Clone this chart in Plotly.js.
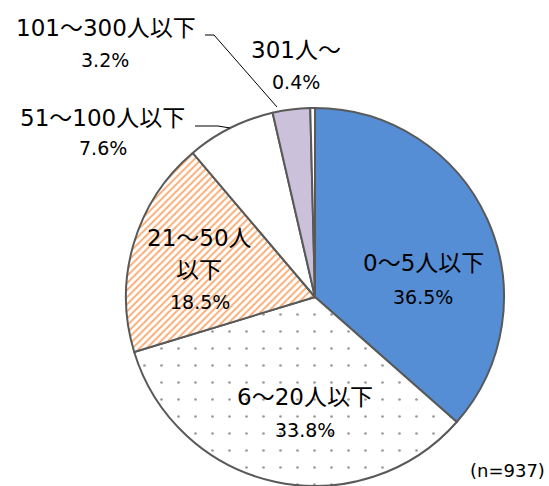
<!DOCTYPE html>
<html>
<head>
<meta charset="utf-8">
<script src="https://cdn.plot.ly/plotly-3.0.1.min.js"></script>
<style>html,body{margin:0;padding:0;background:#fff;overflow:hidden}</style>
</head>
<body>
<div id="chart" style="width:549px;height:486px"></div>
<script>
const categories = ["0～5人以下", "6～20人以下", "21～50人以下", "51～100人以下", "101～300人以下", "301人～"];
const shares = [36.5, 33.8, 18.5, 7.6, 3.2, 0.4];
const pctLabels = ["36.5%", "33.8%", "18.5%", "7.6%", "3.2%", "0.4%"];
const nLabel = "(n=937)";

const W = 549, H = 486;
const px = (x) => x / W;
const py = (y) => 1 - y / H;

const trace = {
  type: "pie",
  values: shares,
  labels: categories,
  sort: false,
  direction: "clockwise",
  rotation: 0,
  textinfo: "none",
  hoverinfo: "label+percent",
  showlegend: false,
  domain: {x: [126 / W, 504 / W], y: [0, 378 / H]},
  marker: {
    colors: ["#558ED5", "#FFFFFF", "#FFFFFF", "#FFFFFF", "#CCC1DA", "#FFFFFF"],
    line: {color: "#595959", width: 2},
    pattern: {
      shape: ["", ".", "/", "", "", ""],
      fgcolor: ["#558ED5", "#9A9A9A", "#F9AE78", "#FFFFFF", "#CCC1DA", "#FFFFFF"],
      bgcolor: ["#558ED5", "#FFFFFF", "#FFFFFF", "#FFFFFF", "#CCC1DA", "#FFFFFF"],
      size: [8, 17, 5, 8, 8, 8],
      solidity: [0.3, 0.02, 0.4, 0.3, 0.3, 0.3],
      fillmode: "replace"
    }
  }
};

const nameFont = {family: "DejaVu Sans, Noto Sans CJK JP", size: 23, color: "#000"};
const pctFont = {family: "DejaVu Sans", size: 19, color: "#000"};

function ann(text, x, y, font) {
  return {text: text, x: px(x), y: py(y), xref: "paper", yref: "paper",
          xanchor: "center", yanchor: "middle", showarrow: false, font: font};
}

const annotations = [
  ann(categories[0], 423, 263, nameFont), ann(pctLabels[0], 423, 297, pctFont),
  ann(categories[1], 305, 397, nameFont), ann(pctLabels[1], 305, 430, pctFont),
  ann("21～50人", 199, 238, nameFont), ann("以下", 199, 270, nameFont), ann(pctLabels[2], 200, 302, pctFont),
  ann(categories[3], 102, 118, nameFont), ann(pctLabels[3], 103, 148, pctFont),
  ann(categories[4], 106, 28, nameFont), ann(pctLabels[4], 105, 60, pctFont),
  ann(categories[5], 296, 50, nameFont), ann(pctLabels[5], 296, 82, pctFont),
  ann(nLabel, 507, 470, {family: "DejaVu Sans", size: 18, color: "#000"})
];

function leader(points) {
  const d = points.map((p, i) => (i ? "L" : "M") + px(p[0]) + "," + py(p[1])).join(" ");
  return {type: "path", xref: "paper", yref: "paper", path: d, line: {color: "#000", width: 1}};
}

const layout = {
  width: W, height: H,
  margin: {l: 0, r: 0, t: 0, b: 0},
  paper_bgcolor: "#fff",
  annotations: annotations,
  shapes: [
    leader([[205, 35], [214, 35], [277, 107]]),
    leader([[195, 126], [218, 126], [230, 128]])
  ]
};

Plotly.newPlot("chart", [trace], layout, {displayModeBar: false, staticPlot: true});
</script>
</body>
</html>
